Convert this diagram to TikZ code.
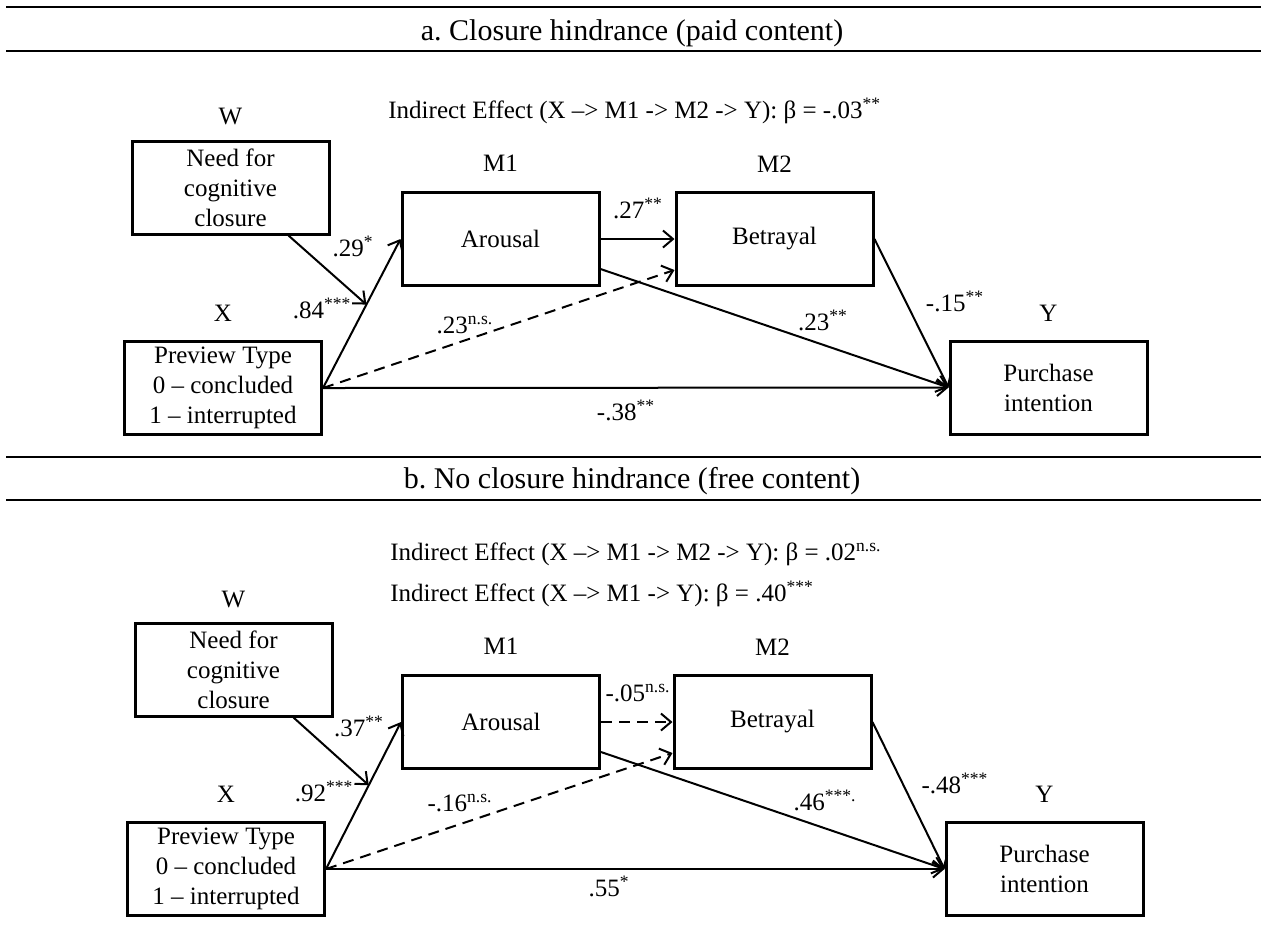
\documentclass[tikz,border=0pt]{standalone}
\usepackage{fontspec}
\setmainfont{Liberation Serif}
\usetikzlibrary{positioning,arrows.meta,calc}

\begin{document}
\begin{tikzpicture}[x=0.5pt,y=-0.5pt,
  font=\fontsize{12.5}{15}\selectfont,
  box/.style={draw,line width=1.5pt,align=center,minimum width=98.5pt,minimum height=46.5pt,inner sep=0pt},
  var/.style={inner sep=0pt},
  coef/.style={inner sep=0pt,anchor=base},
  note/.style={inner sep=0pt,anchor=base west},
  head/.style={inner sep=0pt,anchor=base,font=\fontsize{15}{18}\selectfont},
  a/.style={-{Straight Barb[length=5pt,width=8.5pt]},line width=1pt},
  ns/.style={a,dash pattern=on 5.5pt off 3.5pt},
  bar/.style={line width=1.3pt}]
\useasboundingbox (0,0) rectangle (1261,934);

\draw[bar] (6,7) -- (1261,7);
\draw[bar] (6,51) -- (1261,51);
\node[head] (ta) at (632,40) {a.\ Closure hindrance (paid content)};
\node[note] (ia) at (388,118) {Indirect Effect (X –> M1 -> M2 -> Y): β = -.03\textsuperscript{**}};

\node[box] (wa)  at (230.5,187.5) {Need for\\cognitive\\closure};
\node[box] (xa)  at (223,388)     {Preview Type\\0 – concluded\\1 – interrupted};
\node[box] (m1a) at (500.5,239)   {Arousal};
\node[box] (m2a) at (774.5,239)   {Betrayal};
\node[box] (ya)  at (1048.5,387.5) {Purchase\\intention};
\node[var,above=7pt of wa]  (wla)  {W};
\node[var,above=9pt of xa]  (xla)  {X};
\node[var,above=9.5pt of m1a] (m1la) {M1};
\node[var,above=9pt of m2a] (m2la) {M2};
\node[var,above=9pt of ya]  (yla)  {Y};

\draw[a] ($(wa.south west)!0.79!(wa.south east)$) -- ($(xa.east)!0.56!(m1a.west)$);
\draw[a] (xa.east) -- (m1a.west);
\draw[ns] (xa.east) -- ($(m2a.south west)+(0,-17)$);
\draw[a] (xa.east) -- (ya.west);
\draw[a] (m1a) -- (m2a);
\draw[a] ($(m1a.south east)+(0,-18)$) -- (ya.west);
\draw[a] (m2a.east) -- (ya.west);

\node[coef] (c1a) at (353,256) {.29\textsuperscript{*}};
\node[coef] (c2a) at (322,318) {.84\textsuperscript{***}};
\node[coef] (c3a) at (465,333) {.23\textsuperscript{n.s.}};
\node[coef] (c4a) at (638,218) {.27\textsuperscript{**}};
\node[coef] (c5a) at (823,330) {.23\textsuperscript{**}};
\node[coef] (c6a) at (955,311) {-.15\textsuperscript{**}};
\node[coef] (c7a) at (626,420) {-.38\textsuperscript{**}};

\draw[bar] (6,457) -- (1261,457);
\draw[bar] (6,500) -- (1261,500);
\node[head] (tb) at (632,488) {b.\ No closure hindrance (free content)};
\node[note] (ib1) at (390,560) {Indirect Effect (X –> M1 -> M2 -> Y): β = .02\textsuperscript{n.s.}};
\node[note] (ib2) at (390,601) {Indirect Effect (X –> M1 -> Y): β = .40\textsuperscript{***}};

\node[box] (wb)  at (233.5,669.5) {Need for\\cognitive\\closure};
\node[box] (xb)  at (226,869)     {Preview Type\\0 – concluded\\1 – interrupted};
\node[box] (m1b) at (501,722)     {Arousal};
\node[box] (m2b) at (772.5,722)   {Betrayal};
\node[box] (yb)  at (1044.5,869)  {Purchase\\intention};
\node[var,above=6.5pt of wb]  (wlb)  {W};
\node[var,above=9pt of xb]  (xlb)  {X};
\node[var,above=9.5pt of m1b] (m1lb) {M1};
\node[var,above=9pt of m2b] (m2lb) {M2};
\node[var,above=9pt of yb]  (ylb)  {Y};

\draw[a] ($(wb.south west)!0.8!(wb.south east)$) -- ($(xb.east)!0.57!(m1b.west)$);
\draw[a] (xb.east) -- (m1b.west);
\draw[ns] (xb.east) -- ($(m2b.south west)+(0,-17)$);
\draw[a] (xb.east) -- (yb.west);
\draw[ns] (m1b) -- (m2b);
\draw[a] ($(m1b.south east)+(0,-18)$) -- (yb.west);
\draw[a] (m2b.east) -- (yb.west);

\node[coef] (c1b) at (359,736) {.37\textsuperscript{**}};
\node[coef] (c2b) at (324,801) {.92\textsuperscript{***}};
\node[coef] (c3b) at (460,811) {-.16\textsuperscript{n.s.}};
\node[coef] (c4b) at (638,701) {-.05\textsuperscript{n.s.}};
\node[coef] (c5b) at (825,810) {.46\textsuperscript{***.}};
\node[coef] (c6b) at (955,793) {-.48\textsuperscript{***}};
\node[coef] (c7b) at (609,896) {.55\textsuperscript{*}};
\end{tikzpicture}
\end{document}
